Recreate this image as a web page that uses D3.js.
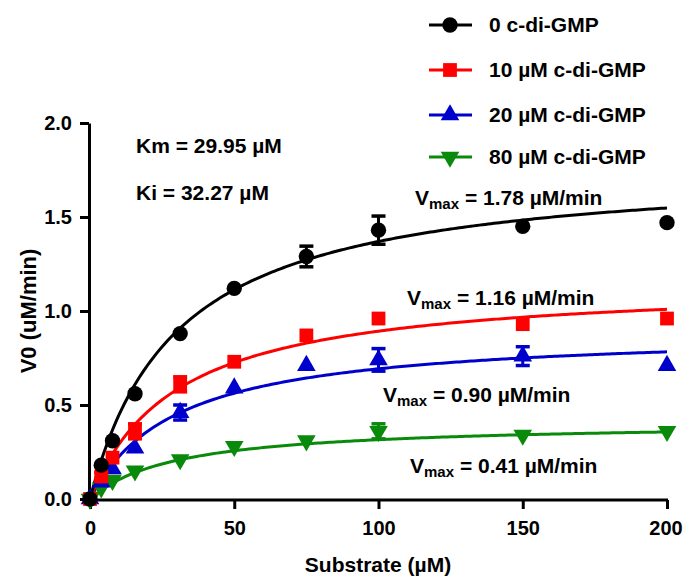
<!DOCTYPE html>
<html>
<head>
<meta charset="utf-8">
<script src="https://cdn.jsdelivr.net/npm/d3@7"></script>
<style>
  html, body { margin: 0; padding: 0; background: #fff; }
  svg { display: block; font-family: "Liberation Sans", Arial, sans-serif; font-weight: bold; }
</style>
</head>
<body>
<svg id="chart"></svg>
<script>
// substrate concentrations (µM)
const substrate = [0, 3.9, 7.8, 15.6, 31.25, 50, 75, 100, 150, 200];

// V0 (µM/min) per c-di-GMP concentration
const v0nM  = [0, 0.18, 0.31, 0.56, 0.88, 1.12, 1.29, 1.43, 1.45, 1.47];
const sd0nM = [0, 0, 0, 0, 0, 0, 0.055, 0.075, 0, 0];
const v10   = [0, 0.12, 0.22, 0.36, 0.61, 0.73, 0.87, 0.96, 0.93, 0.96];
const sd10  = [0, 0.02, 0, 0.04, 0.04, 0, 0, 0, 0, 0];
const v20   = [0, 0.09, 0.16, 0.27, 0.46, 0.59, 0.71, 0.74, 0.76, 0.71];
const sd20  = [0, 0, 0, 0, 0.04, 0, 0, 0.06, 0.05, 0];
const v80   = [0, 0.06, 0.10, 0.15, 0.21, 0.28, 0.31, 0.36, 0.34, 0.36];
const sd80  = [0, 0, 0, 0, 0, 0, 0, 0.04, 0, 0];

const seriesNames = ["0 c-di-GMP", "10 µM c-di-GMP", "20 µM c-di-GMP", "80 µM c-di-GMP"];
const vmax = [1.78, 1.16, 0.90, 0.41];
const km = 29.95;
const ki = 32.27;

const xTicks = [0, 50, 100, 150, 200];
const yTicks = [0, 0.5, 1.0, 1.5, 2.0];

const width = 683;
const height = 578;

const colors = ["#000000", "#ff0000", "#0000cc", "#0a8a0a"];
const shapes = [d3.symbolCircle, d3.symbolSquare, d3.symbolTriangle, d3.symbolTriangle];

const series = [
  { name: seriesNames[0], v: v0nM, sd: sd0nM, vmax: vmax[0] },
  { name: seriesNames[1], v: v10, sd: sd10, vmax: vmax[1] },
  { name: seriesNames[2], v: v20, sd: sd20, vmax: vmax[2] },
  { name: seriesNames[3], v: v80, sd: sd80, vmax: vmax[3] },
].map((s, i) => ({ ...s, color: colors[i], shape: shapes[i], flip: i === 3 }));

const x = d3.scaleLinear().domain([0, 200]).range([90, 667]);
const y = d3.scaleLinear().domain([0, 2]).range([499, 123]);

const svg = d3.select("#chart")
  .attr("width", width)
  .attr("height", height)
  .attr("viewBox", [0, 0, width, height]);

// axes
const gx = svg.append("g")
  .attr("transform", "translate(0,500)")
  .call(d3.axisBottom(x).tickValues(xTicks).tickSize(9).tickSizeOuter(0).tickPadding(12));

const gy = svg.append("g")
  .attr("transform", "translate(89,0)")
  .call(d3.axisLeft(y).tickValues(yTicks).tickFormat(d3.format(".1f")).tickSize(9).tickSizeOuter(0).tickPadding(8));

[gx, gy].forEach(g => {
  g.selectAll("path, line").attr("stroke", "#000").attr("stroke-width", 3);
  g.selectAll("text").attr("font-size", 20).attr("font-weight", "bold")
    .attr("font-family", "'Liberation Sans', Arial, sans-serif").attr("fill", "#000");
});
gx.select(".domain").attr("d", "M88.5,0H668");
// keep the last label inside the frame
gx.selectAll(".tick text").filter(d => d === 200).attr("dx", -1.5);

svg.append("text")
  .attr("x", 378).attr("y", 572)
  .attr("text-anchor", "middle")
  .attr("font-size", 21)
  .text("Substrate (µM)");

svg.append("text")
  .attr("transform", "translate(36,311) rotate(-90)")
  .attr("text-anchor", "middle")
  .attr("font-size", 22)
  .text("V0 (uM/min)");

// fitted Michaelis-Menten curves using the reported Km / Vmax
const curveX = d3.range(0, 200.5, 1);
const line = d3.line().x(d => x(d[0])).y(d => y(d[1]));

svg.append("g").selectAll("path")
  .data(series.slice().reverse())
  .join("path")
  .attr("fill", "none")
  .attr("stroke", d => d.color)
  .attr("stroke-width", 3)
  .attr("d", d => line(curveX.map(s => [s, d.vmax * s / (km + s)])));

// points with error bars (drawn green first, black last)
const sym = (shape) => d3.symbol().type(shape).size(shape === d3.symbolCircle ? 185 : shape === d3.symbolSquare ? 190 : 150)();

series.slice().reverse().forEach(s => {
  const g = svg.append("g").attr("fill", s.color).attr("stroke", s.color);
  const pts = substrate.map((sub, i) => ({ sub, v: s.v[i], sd: s.sd[i] }));

  const eb = g.selectAll("g.eb").data(pts.filter(d => d.sd > 0)).join("g").attr("class", "eb");
  eb.append("line")
    .attr("x1", d => x(d.sub)).attr("x2", d => x(d.sub))
    .attr("y1", d => y(d.v - d.sd)).attr("y2", d => y(d.v + d.sd))
    .attr("stroke-width", 3);
  eb.selectAll("line.cap").data(d => [[d.sub, d.v - d.sd], [d.sub, d.v + d.sd]]).join("line")
    .attr("class", "cap")
    .attr("x1", d => x(d[0]) - 7).attr("x2", d => x(d[0]) + 7)
    .attr("y1", d => y(d[1])).attr("y2", d => y(d[1]))
    .attr("stroke-width", 3.5);

  g.selectAll("path.pt").data(pts).join("path")
    .attr("class", "pt")
    .attr("stroke", "none")
    .attr("d", sym(s.shape))
    .attr("transform", d => `translate(${x(d.sub)},${y(d.v)})${s.flip ? " rotate(180)" : ""}`);
});

// legend
const legendRows = [25, 70, 115, 157];
const legend = svg.append("g");
series.forEach((s, i) => {
  const row = legend.append("g").attr("transform", `translate(0,${legendRows[i]})`);
  row.append("line").attr("x1", 429).attr("x2", 472).attr("y1", 0).attr("y2", 0)
    .attr("stroke", s.color).attr("stroke-width", 3);
  row.append("path").attr("d", sym(s.shape)).attr("fill", s.color)
    .attr("transform", `translate(450,0)${s.flip ? " rotate(180)" : ""}`);
  row.append("text").attr("x", 489).attr("y", 7).attr("font-size", 21).text(s.name);
});

// annotations
svg.append("text").attr("x", 136).attr("y", 153).attr("font-size", 21).text(`Km = ${km} µM`);
svg.append("text").attr("x", 136).attr("y", 200).attr("font-size", 21).text(`Ki = ${ki} µM`);

const vmaxLabelPos = [[415, 205], [407, 305], [383, 402], [410, 473]];
vmax.forEach((v, i) => {
  const t = svg.append("text").attr("x", vmaxLabelPos[i][0]).attr("y", vmaxLabelPos[i][1]).attr("font-size", 21);
  t.append("tspan").text("V");
  t.append("tspan").attr("font-size", 15).attr("dy", 4).text("max");
  t.append("tspan").attr("dy", -4).text(` = ${v.toFixed(2)} µM/min`);
});
</script>
</body>
</html>
